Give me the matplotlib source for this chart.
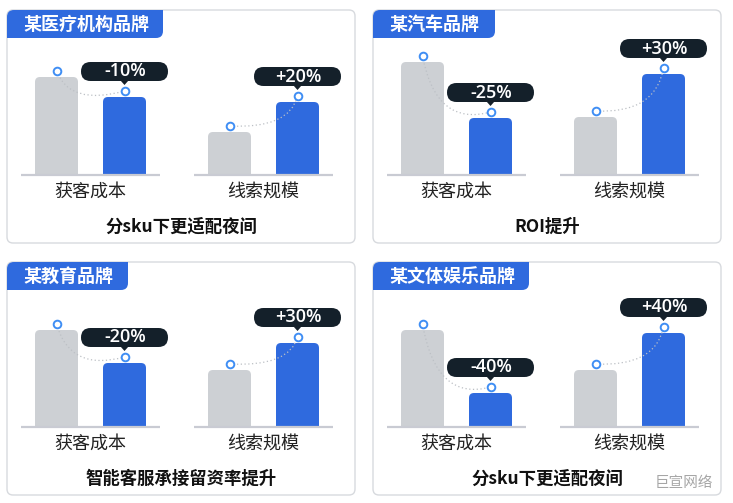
import matplotlib
matplotlib.use("Agg")
import matplotlib.pyplot as plt
import matplotlib.transforms as mtransforms
from matplotlib.patches import FancyBboxPatch, Rectangle, Polygon, PathPatch
from matplotlib.path import Path

plt.rcParams['font.family'] = ['Noto Sans CJK SC', 'DejaVu Sans']

# data (bar heights, baseline = 0)
brands = ["某医疗机构品牌", "某汽车品牌", "某教育品牌", "某文体娱乐品牌"]
subtitles = ["分sku下更适配夜间", "ROI提升", "智能客服承接留资率提升", "分sku下更适配夜间"]
metrics = ["获客成本", "线索规模"]
before_vals = [[98, 43], [113, 58], [97, 57], [97, 57]]
after_vals = [[78, 73], [57, 101], [64, 84], [34, 94]]
change_labels = [["-10%", "+20%"], ["-25%", "+30%"], ["-20%", "+30%"], ["-40%", "+40%"]]

GRAY = "#cdd0d4"
BLUE = "#2f6ade"
DARK = "#14202a"
RING = "#3f8ef4"

W, H, DPI = 733, 503, 100
fig = plt.figure(figsize=(W / DPI, H / DPI), dpi=DPI)
fig.patch.set_facecolor("white")

# background axes in pixel units (y down)
bg = fig.add_axes([0, 0, 1, 1])
bg.set_xlim(0, W)
bg.set_ylim(H, 0)
bg.axis("off")

panel_x = [7, 373, 7, 373]
panel_y = [10, 10, 262, 262]
panel_w, panel_h = 348, 233
tab_w = [156, 122, 121, 156]
tab_h = 28


def px_trans(ax, x, y):
    # pixel offsets around a data point
    return (mtransforms.Affine2D().scale(1 / DPI) + fig.dpi_scale_trans
            + mtransforms.ScaledTranslation(x, y, ax.transData))


for k in range(4):
    px0, py0 = panel_x[k], panel_y[k]
    bg.add_patch(FancyBboxPatch((px0, py0), panel_w, panel_h,
                                boxstyle="round,pad=0,rounding_size=6",
                                fc="white", ec="#d7dade", lw=1.0))
    # title tab
    bg.add_patch(FancyBboxPatch((px0, py0), tab_w[k], tab_h,
                                boxstyle="round,pad=0,rounding_size=7",
                                fc=BLUE, ec="none", lw=0))
    bg.add_patch(Rectangle((px0 + tab_w[k] - 8, py0), 8, 8, fc=BLUE, ec="none"))
    bg.add_patch(Rectangle((px0, py0 + tab_h - 8), 8, 8, fc=BLUE, ec="none"))
    bg.text(px0 + 16, py0 + tab_h / 2 + 0.5, brands[k], color="white",
            fontsize=13, fontweight="bold", ha="left", va="center")
    bg.text(px0 + panel_w / 2, py0 + 217, subtitles[k], color="#111111",
            fontsize=12.5, fontweight="bold", ha="center", va="center")

    # chart axes: baseline 165 px below the panel top, 173 px between groups
    base = py0 + 165
    x_unit = 173.0
    g0 = px0 + 83.5
    left = px0 / W
    bottom = (H - base) / H
    ax = fig.add_axes([left, bottom, panel_w / W, 165 / H])
    ax.set_xlim((px0 - g0) / x_unit, (px0 + panel_w - g0) / x_unit)
    ax.set_ylim(0, 165)
    ax.axis("off")
    ax.patch.set_visible(False)

    bw = 43 / x_unit
    off = 34 / x_unit
    ppx = x_unit
    for i in range(2):
        b, a = before_vals[k][i], after_vals[k][i]
        xb, xa = i - off, i + off
        # rounded-top bars (bottom corners hidden below the baseline)
        for xc, h, col in ((xb, b, GRAY), (xa, a, BLUE)):
            ax.add_patch(FancyBboxPatch((xc - bw / 2, -8), bw, h + 8,
                                        boxstyle="round,pad=0,rounding_size=%f" % (5 / ppx),
                                        mutation_aspect=ppx, fc=col, ec="none", zorder=2))
        ax.plot([i - 0.40, i + 0.40], [0, 0], color="#c9cbd3", lw=1.6,
                clip_on=False, zorder=3, solid_capstyle="butt")
        ax.text(i, -17, metrics[i], ha="center", va="center", fontsize=13,
                color="#222222", clip_on=False)

        yb, ya = b + 6, a + 6
        dx = xa - xb
        if a < b:
            ctrl = (xb + 0.2 * dx, ya - 15)
        else:
            ctrl = (xa - 0.12 * dx, yb - 3)
        curve = Path([(xb, yb), ctrl, (xa, ya)], [Path.MOVETO, Path.CURVE3, Path.CURVE3])
        ax.add_patch(PathPatch(curve, fc="none", ec="#bcc0c5", lw=0.9,
                               ls=(0, (1.0, 2.0)), zorder=4))
        ax.plot([xb, xa], [yb, ya], ls="none", marker="o", ms=5.5, mfc="white",
                mec=RING, mew=1.4, zorder=5)

        # callout
        t = px_trans(ax, xa, ya)
        ax.add_patch(FancyBboxPatch((-43.5, 10), 87, 19,
                                    boxstyle="round,pad=0,rounding_size=9.5",
                                    fc=DARK, ec="none", transform=t, zorder=6,
                                    clip_on=False))
        ax.add_patch(Polygon([(-4, 10.5), (4, 10.5), (0, 6)], closed=True,
                             fc=DARK, ec="none", transform=t, zorder=6, clip_on=False))
        ax.text(1, 19.5, change_labels[k][i], transform=t, ha="center",
                va="center", color="white", fontsize=13, fontweight="semibold",
                family=["Open Sans", "DejaVu Sans"], zorder=7, clip_on=False)

bg.text(713, 483, "巨宣网络", color="#a6a6a6", fontsize=10.5, ha="right",
        va="center")

fig.savefig("out.png", dpi=DPI)
